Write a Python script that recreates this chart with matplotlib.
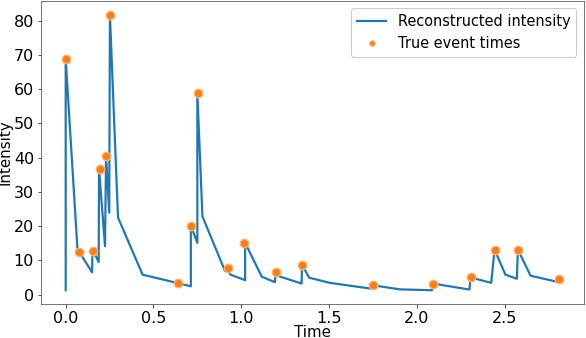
import matplotlib
matplotlib.use("Agg")
import matplotlib.pyplot as plt

# Reconstructed intensity curve (vertices)
curve_t = [0.000, 0.000, 0.067, 0.150, 0.153, 0.188, 0.190, 0.224, 0.230, 0.248,
           0.252, 0.298, 0.438, 0.713, 0.713, 0.750, 0.750, 0.779, 0.908, 0.923,
           0.938, 1.022, 1.022, 1.117, 1.192, 1.196, 1.205, 1.344, 1.346, 1.387,
           1.505, 1.742, 1.751, 1.903, 2.087, 2.092, 2.300, 2.306, 2.424, 2.443,
           2.505, 2.570, 2.576, 2.648, 2.809]
curve_v = [1.25, 68.8, 13.3, 6.5, 13.1, 9.5, 36.7, 14.1, 40.5, 23.9,
           81.7, 22.5, 5.8, 2.4, 20.1, 15.1, 58.8, 22.8, 6.8, 7.8,
           5.8, 4.2, 15.1, 5.2, 3.6, 6.6, 5.5, 3.2, 8.7, 4.9,
           3.4, 1.7, 2.7, 1.5, 1.25, 3.2, 1.45, 5.0, 3.4, 13.1,
           5.8, 4.6, 13.1, 5.5, 3.6]

# True event times and intensity at those times
event_t = [0.000, 0.078, 0.156, 0.193, 0.230, 0.251, 0.637, 0.713, 0.752, 0.925,
           1.018, 1.196, 1.348, 1.751, 2.093, 2.306, 2.443, 2.576, 2.810]
event_v = [68.8, 12.5, 12.6, 36.7, 40.5, 81.7, 3.4, 20.1, 58.8, 7.8,
           15.1, 6.6, 8.5, 2.7, 3.2, 5.1, 13.1, 13.1, 4.4]

plt.rcParams['font.family'] = ['DejaVu Sans']
DPI = 72
fs = 16
lfs = 15

fig = plt.figure(figsize=(586 / DPI, 338 / DPI), dpi=DPI)
ax = fig.add_axes([0.070, 0.1006, 0.926, 0.896])

ax.plot(curve_t, curve_v, color='#1f77b4', lw=2.2, label='Reconstructed intensity', zorder=2)
ax.plot(event_t, event_v, 'o', ls='none', markersize=8.5,
        markerfacecolor='#ff7f0e', markeredgecolor='#ffb27a', markeredgewidth=1.3,
        label='True event times', zorder=3)

ax.set_xlabel('Time', fontsize=lfs, labelpad=-0.5)
ax.set_ylabel('Intensity', fontsize=lfs, labelpad=1.5)
ax.set_xticks([0.0, 0.5, 1.0, 1.5, 2.0, 2.5])
ax.set_yticks([0, 10, 20, 30, 40, 50, 60, 70, 80])
ax.tick_params(labelsize=fs, length=3.5, width=1, color='#555555')
for s in ax.spines.values():
    s.set_color('#555555')

ax.legend(loc='upper right', fontsize=14.5, markerscale=0.65, framealpha=1,
          edgecolor='#cccccc', handlelength=2.0)

fig.savefig('out.png', dpi=DPI)
